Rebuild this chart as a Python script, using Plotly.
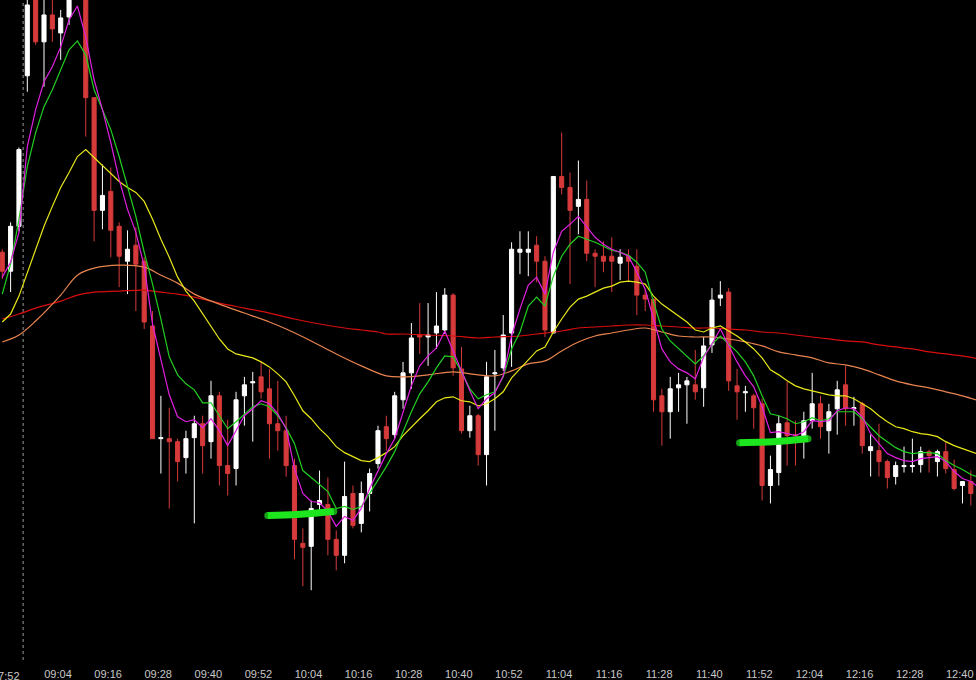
import plotly.graph_objects as go

# ---- tick labels (2-minute bars, label every 6 bars) ----
tick_bars = [5, 11, 17, 23, 29, 35, 41, 47, 53, 59, 65, 71, 77, 83, 89, 95, 101, 107, 113]
tick_labels = ["09:04", "09:16", "09:28", "09:40", "09:52", "10:04", "10:16", "10:28", "10:40",
               "10:52", "11:04", "11:16", "11:28", "11:40", "11:52", "12:04", "12:16", "12:28", "12:40"]
first_label = "07:52"  # label of the bar just left of the visible range (cut by the edge)

# ---- OHLC (bar index 0..117) ----
open_ = [447, 428, 473, 624, 705, 658, 685, 667, 683, 705,
         720, 602, 489, 508, 473, 438, 454, 438, 373, 260,
         260, 257, 241, 261, 275, 257, 303, 233, 230, 303,
         316, 322, 310, 275, 268, 233, 155, 152, 194, 194,
         159, 143, 205, 175, 205, 235, 272, 264, 299, 326,
         364, 362, 366, 369, 404, 330, 268, 283, 244, 325,
         331, 366, 447, 447, 454, 438, 366, 523, 512, 493,
         500, 446, 443, 443, 436, 443, 433, 404, 400, 303,
         287, 311, 314, 314, 311, 354, 401, 407, 313, 306,
         303, 295, 213, 226, 276, 264, 263, 278, 295, 268,
         290, 314, 290, 295, 248, 248, 237, 222, 232, 232,
         234, 247, 237, 247, 229, 213, 217, 202]
high = [450, 477, 552, 705, 708, 703, 702, 690, 710, 740,
        725, 602, 535, 532, 477, 469, 472, 442, 388, 303,
        291, 260, 268, 283, 283, 318, 307, 279, 307, 322,
        327, 337, 330, 318, 283, 240, 170, 198, 228, 221,
        168, 237, 213, 217, 230, 273, 283, 307, 337, 376,
        396, 396, 407, 411, 406, 352, 293, 285, 337, 349,
        384, 457, 468, 468, 463, 443, 523, 567, 527, 539,
        519, 450, 458, 462, 450, 450, 450, 410, 400, 310,
        322, 326, 322, 349, 362, 411, 418, 411, 330, 313,
        305, 300, 243, 283, 317, 278, 287, 326, 303, 295,
        318, 333, 302, 297, 264, 275, 239, 237, 252, 260,
        252, 249, 249, 257, 239, 217, 228, 210]
low = [420, 407, 468, 608, 655, 613, 658, 640, 675, 702,
       563, 458, 470, 442, 412, 405, 388, 370, 260, 225,
       190, 217, 225, 175, 225, 240, 213, 203, 213, 273,
       257, 300, 240, 248, 222, 139, 112, 108, 188, 143,
       128, 135, 170, 166, 187, 230, 248, 260, 290, 310,
       345, 333, 350, 365, 323, 265, 261, 233, 213, 268,
       328, 332, 425, 423, 417, 362, 366, 505, 415, 465,
       438, 412, 427, 407, 419, 418, 384, 388, 287, 253,
       260, 287, 275, 299, 292, 346, 393, 308, 279, 287,
       270, 198, 195, 213, 233, 233, 240, 270, 260, 245,
       264, 273, 273, 245, 222, 222, 210, 214, 226, 226,
       226, 226, 222, 225, 208, 195, 193, 200]
close = [428, 473, 550, 695, 658, 685, 671, 682, 702, 730,
         602, 489, 504, 469, 443, 450, 435, 377, 260, 261,
         257, 237, 260, 275, 253, 303, 233, 225, 299, 314,
         317, 307, 275, 268, 233, 159, 151, 190, 198, 159,
         143, 202, 173, 205, 225, 268, 260, 303, 326, 361,
         362, 364, 373, 404, 331, 268, 283, 244, 322, 326,
         364, 450, 450, 450, 438, 369, 523, 512, 489, 500,
         446, 443, 438, 438, 442, 438, 404, 400, 299, 287,
         310, 314, 318, 307, 353, 399, 404, 318, 307, 307,
         291, 213, 229, 275, 263, 263, 278, 295, 272, 287,
         309, 290, 291, 253, 252, 237, 221, 233, 233, 233,
         247, 243, 247, 230, 210, 217, 205, 208]

# ---- moving averages ----
ma_magenta = [422, 437, 467, 553, 590, 618, 633, 653, 680, 694,
              663, 620, 590, 557, 520, 490, 467, 433, 375, 340,
              304, 282, 277, 279, 271, 280, 268, 253, 268, 283,
              290, 298, 295, 285, 270, 230, 205, 197, 196, 187,
              172, 182, 178, 190, 210, 227, 245, 260, 287, 313,
              333, 343, 351, 368, 348, 327, 308, 290, 300, 306,
              323, 363, 390, 414, 422, 405, 447, 468, 475, 483,
              472, 462, 455, 450, 447, 443, 427, 410, 380, 350,
              337, 330, 326, 320, 342, 355, 370, 353, 337, 323,
              312, 292, 266, 267, 265, 263, 267, 278, 277, 278,
              288, 291, 290, 282, 265, 255, 245, 241, 238, 237,
              240, 241, 242, 237, 227, 220, 217, 211]
ma_green = [405, 435, 480, 533, 567, 593, 610, 630, 650, 659,
            645, 610, 590, 570, 543, 513, 483, 447, 415, 380,
            342, 324, 315, 309, 296, 296, 283, 270, 277, 285,
            292, 295, 292, 283, 271, 255, 228, 221, 214, 207,
            190, 192, 189, 192, 205, 218, 232, 247, 267, 287,
            305, 317, 331, 343, 342, 327, 310, 300, 304, 307,
            322, 350, 367, 393, 402, 393, 423, 443, 455, 463,
            460, 457, 453, 449, 447, 444, 437, 427, 397, 370,
            358, 350, 343, 335, 343, 355, 363, 355, 347, 337,
            323, 303, 285, 283, 280, 275, 277, 281, 278, 280,
            287, 287, 287, 280, 271, 263, 257, 251, 247, 245,
            246, 246, 245, 238, 233, 229, 224, 221]
ma_yellow = [377, 385, 403, 427, 450, 473, 493, 512, 527, 543,
             550, 542, 535, 527, 518, 512, 507, 498, 480, 460,
             442, 422, 408, 398, 385, 373, 360, 350, 345, 343,
             341, 337, 332, 325, 317, 303, 288, 280, 270, 262,
             252, 246, 242, 238, 237, 241, 246, 252, 263, 272,
             280, 288, 297, 301, 302, 298, 297, 293, 295, 300,
             307, 321, 330, 340, 348, 352, 367, 380, 392, 400,
             403, 407, 411, 413, 417, 418, 417, 415, 403, 395,
             389, 383, 377, 369, 367, 371, 373, 368, 363, 357,
             350, 341, 329, 324, 318, 313, 310, 308, 306, 304,
             303, 303, 300, 295, 290, 283, 277, 272, 270, 267,
             265, 264, 262, 257, 253, 250, 247, 244]
orange_bars = [0, 2, 4, 7, 9, 11, 14, 17, 19, 21, 23, 26, 29, 32, 34, 37, 40, 43, 46, 48,
               51, 54, 57, 59, 61, 63, 65, 67, 69, 71, 73, 75, 77, 79, 81, 83, 85, 87, 89, 91,
               93, 95, 97, 99, 101, 103, 105, 107, 109, 111, 113, 115, 117]
ma_orange = [357, 364, 378, 404, 424, 431, 434, 432, 424, 416, 405, 395, 386, 377, 370, 358, 345, 333, 323, 322,
             324, 327, 324, 323, 328, 335, 338, 348, 357, 363, 366, 369, 371, 367, 363, 362, 362, 360, 357, 353,
             347, 344, 341, 336, 334, 330, 324, 318, 314, 311, 307, 303, 298]
red_bars = [0, 2, 4, 7, 9, 11, 14, 17, 19, 21, 23, 26, 29, 32, 35, 38, 41, 43, 45, 46,
            48, 51, 54, 57, 59, 62, 64, 67, 69, 71, 73, 75, 77, 79, 81, 83, 85, 87, 89, 91,
            93, 95, 97, 99, 101, 103, 105, 107, 109, 111, 113, 115, 117]
ma_red = [380, 385, 391, 398, 404, 407, 408, 409, 407, 405, 402, 396, 391, 386, 380, 375, 371, 369, 367, 365,
          365, 364, 363, 361, 362, 363, 365, 368, 371, 372, 373, 374, 374, 373, 372, 371, 371, 370, 369, 367,
          366, 364, 362, 360, 358, 357, 354, 352, 350, 347, 345, 343, 340]

# ---- hand-drawn highlight strokes (bar index, price) ----
mark1_bars = [31.8, 35.3, 39.7]
mark1_vals = [183, 184, 187]
mark2_bars = [88.3, 92.3, 96.5]
mark2_vals = [256, 257, 260]

session_break = 2.5  # between last previous-session bar and first 09:00 bar

bars = list(range(len(open_)))

fig = go.Figure()

fig.add_trace(go.Candlestick(
    x=bars, open=open_, high=high, low=low, close=close,
    increasing=dict(line=dict(color="#ffffff", width=1), fillcolor="#ffffff"),
    decreasing=dict(line=dict(color="#d63a3a", width=1), fillcolor="#d63a3a"),
    whiskerwidth=0, showlegend=False, hoverinfo="skip",
))

def add_line(xs, ys, color, shape="linear"):
    fig.add_trace(go.Scatter(x=xs, y=ys, mode="lines",
                             line=dict(color=color, width=1.2, shape=shape),
                             showlegend=False, hoverinfo="skip"))

add_line(red_bars, ma_red, "#d80e0e", "spline")
add_line(orange_bars, ma_orange, "#e8844f", "spline")
add_line(bars, ma_yellow, "#e8e818")
add_line(bars, ma_green, "#22d022")
add_line(bars, ma_magenta, "#e020e0")

for mx, mv in ((mark1_bars, mark1_vals), (mark2_bars, mark2_vals)):
    fig.add_trace(go.Scatter(x=mx, y=mv, mode="lines+markers",
                             line=dict(color="#1ee61e", width=7, shape="spline"),
                             marker=dict(color="#1ee61e", size=[7, 0, 7], line=dict(width=0)),
                             showlegend=False, hoverinfo="skip"))

fig.add_shape(type="line", xref="x", yref="paper", x0=session_break, x1=session_break,
              y0=0, y1=1, line=dict(color="#9a9a9a", width=1, dash="dot"), layer="below")

tick_font = dict(family="Liberation Sans, Arial, sans-serif", size=11, color="#c8c8c8")

fig.add_annotation(text=first_label, xref="paper", yref="paper", x=0, y=0,
                   xanchor="right", yanchor="top", xshift=22, yshift=-8,
                   showarrow=False, font=tick_font)

fig.update_layout(
    width=976, height=680,
    margin=dict(l=0, r=0, t=0, b=18),
    paper_bgcolor="#000000", plot_bgcolor="#000000",
    xaxis=dict(range=[-0.27, 116.62], showgrid=False, zeroline=False, showline=False,
               rangeslider=dict(visible=False),
               tickmode="array", tickvals=tick_bars, ticktext=tick_labels,
               ticks="", ticklabelshift=14, ticklabelstandoff=6, ticklabeloverflow="allow",
               tickfont=tick_font),
    yaxis=dict(range=[38, 700], showgrid=False, zeroline=False, showline=False,
               showticklabels=False, ticks=""),
)

fig.write_html("out.html", config={"displayModeBar": False},
               post_script="document.body.style.margin='0';document.body.style.overflow='hidden';")
